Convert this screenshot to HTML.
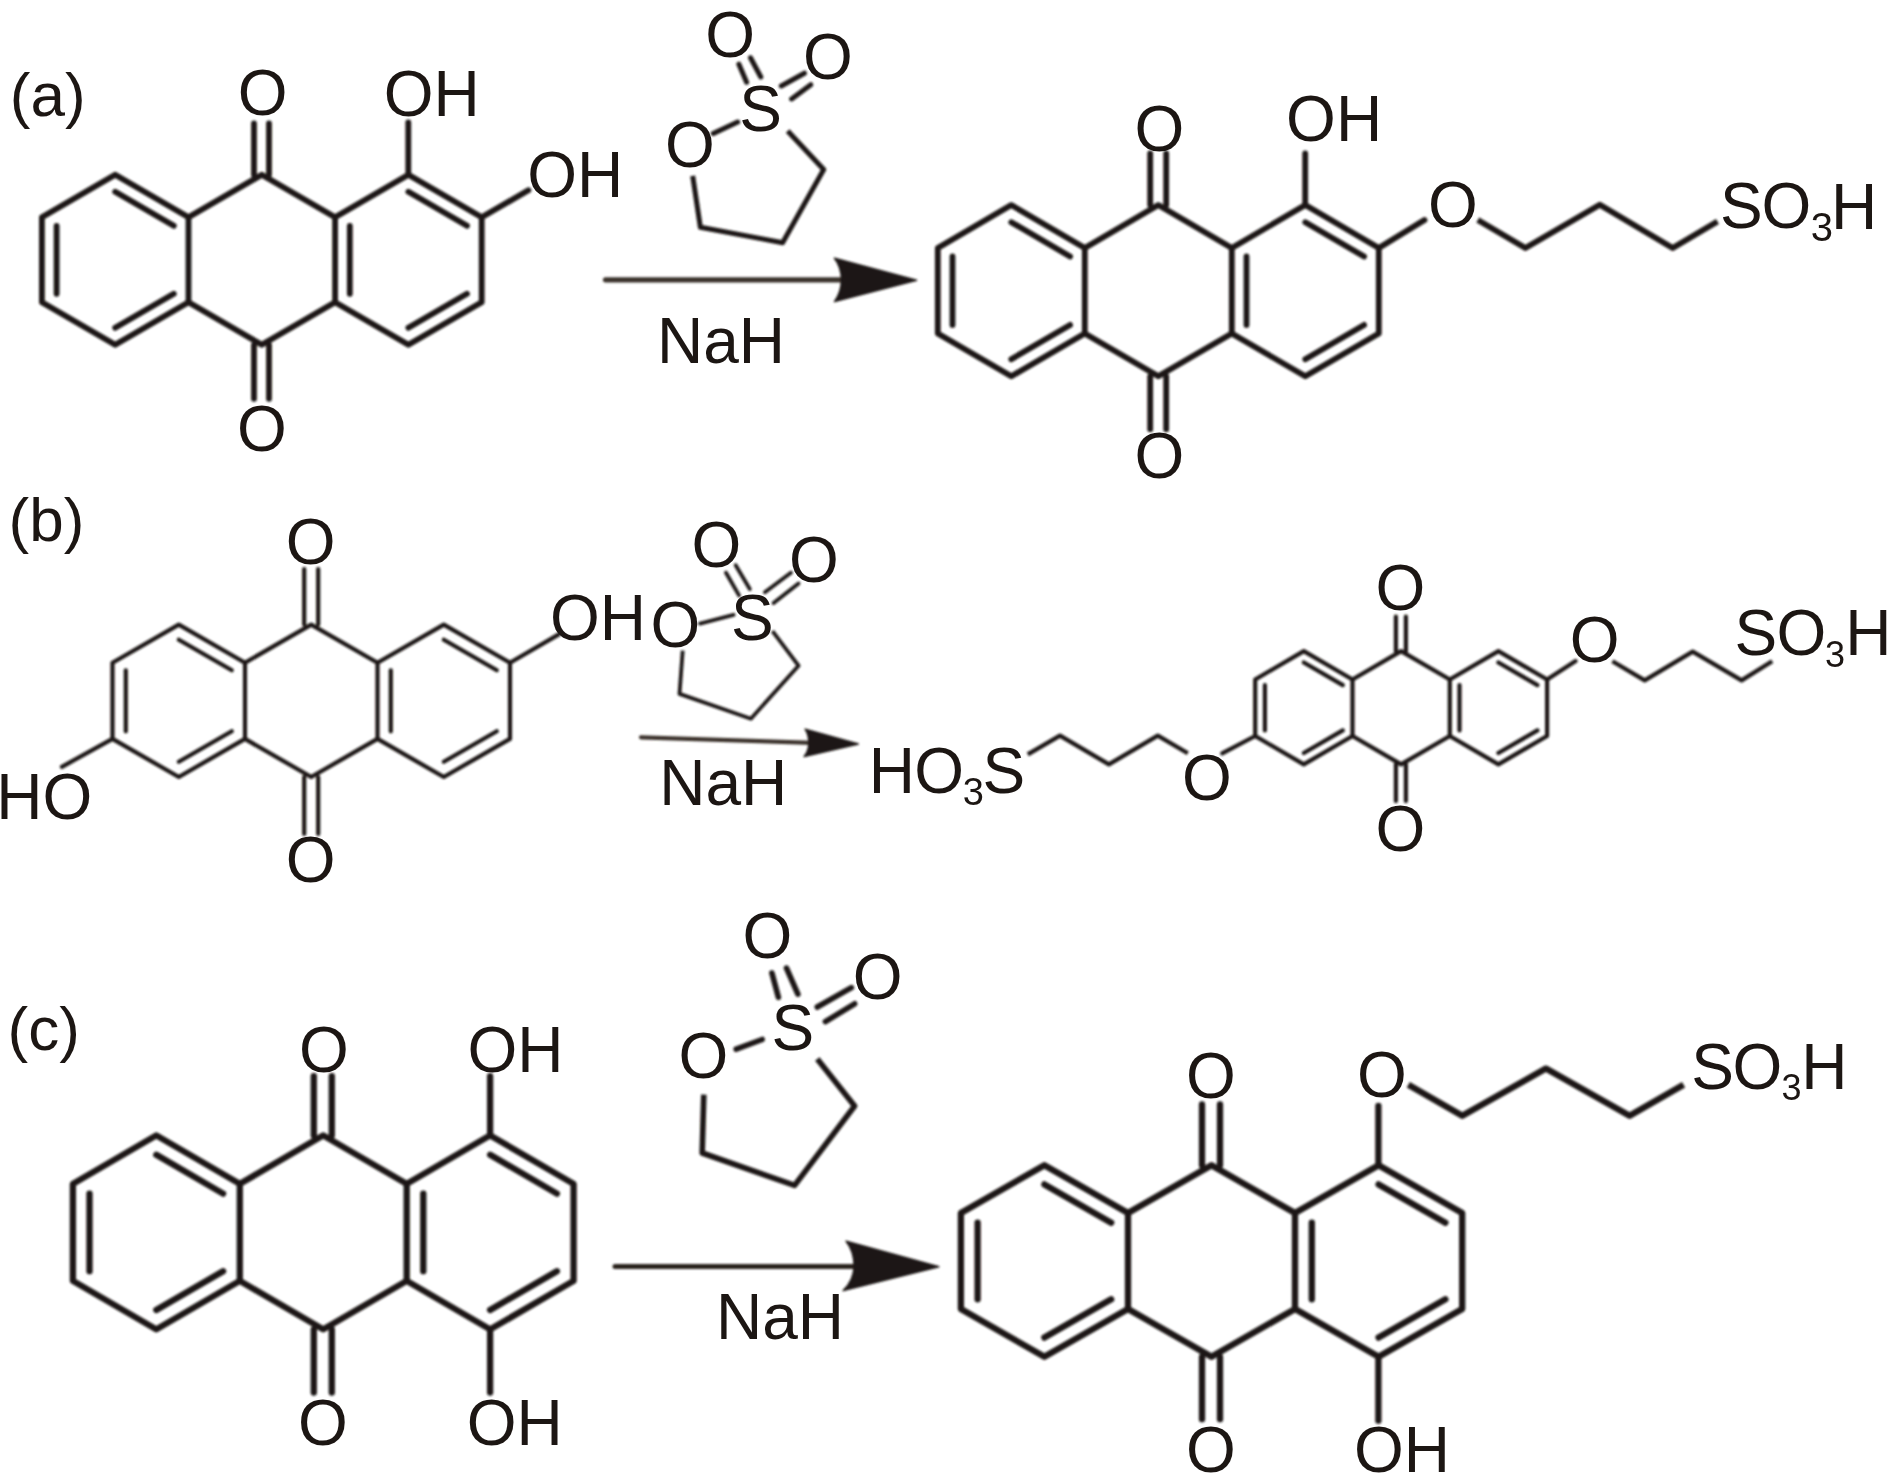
<!DOCTYPE html>
<html><head><meta charset="utf-8"><title>Reaction scheme</title>
<style>
html,body{margin:0;padding:0;background:#fff;}
svg{display:block;will-change:transform;}
text{font-family:"Liberation Sans",sans-serif;fill:#1c1613;stroke:none;}
</style></head>
<body>
<svg width="1890" height="1480" viewBox="0 0 1890 1480">
<defs><filter id="soft" x="0" y="0" width="1890" height="1480" filterUnits="userSpaceOnUse"><feGaussianBlur stdDeviation="0.8"/></filter></defs>
<rect width="1890" height="1480" fill="#fff"/>
<g filter="url(#soft)">
<g stroke="#1c1613" stroke-linejoin="round" stroke-linecap="butt" fill="none">
<path d="M41.9,217.3 L115.2,174.8 L188.5,217.3 L261.8,174.8 L335.1,217.3 L408.4,174.8 L481.7,217.3 L481.7,302.3 L408.4,344.8 L335.1,302.3 L261.8,344.8 L188.5,302.3 L115.2,344.8 L41.9,302.3 Z" fill="none" stroke-width="5.8"/>
<line x1="188.5" y1="217.3" x2="188.5" y2="302.3" stroke-width="5.8" stroke-linecap="round"/>
<line x1="335.1" y1="217.3" x2="335.1" y2="302.3" stroke-width="5.8" stroke-linecap="round"/>
<line x1="115.2" y1="191.8" x2="173.8" y2="225.8" stroke-width="5.8" stroke-linecap="round"/>
<line x1="56.6" y1="225.8" x2="56.6" y2="293.8" stroke-width="5.8" stroke-linecap="round"/>
<line x1="173.8" y1="293.8" x2="115.2" y2="327.8" stroke-width="5.8" stroke-linecap="round"/>
<line x1="408.4" y1="191.8" x2="467.0" y2="225.8" stroke-width="5.8" stroke-linecap="round"/>
<line x1="349.8" y1="225.8" x2="349.8" y2="293.8" stroke-width="5.8" stroke-linecap="round"/>
<line x1="467.0" y1="293.8" x2="408.4" y2="327.8" stroke-width="5.8" stroke-linecap="round"/>
<line x1="254.0" y1="174.8" x2="254.0" y2="123.5" stroke-width="5.8" stroke-linecap="round"/>
<line x1="254.0" y1="344.8" x2="254.0" y2="398.8" stroke-width="5.8" stroke-linecap="round"/>
<line x1="269.0" y1="174.8" x2="269.0" y2="123.5" stroke-width="5.8" stroke-linecap="round"/>
<line x1="269.0" y1="344.8" x2="269.0" y2="398.8" stroke-width="5.8" stroke-linecap="round"/>
<line x1="408.3" y1="174.8" x2="408.3" y2="122.4" stroke-width="5.8" stroke-linecap="round"/>
<line x1="481.7" y1="217.3" x2="528.4" y2="190.2" stroke-width="5.8" stroke-linecap="round"/>
<line x1="738.9" y1="64.2" x2="746.6" y2="82.2" stroke-width="5.0" stroke-linecap="round"/>
<line x1="750.5" y1="57.8" x2="760.8" y2="77.0" stroke-width="5.0" stroke-linecap="round"/>
<line x1="781.3" y1="86.0" x2="804.4" y2="73.2" stroke-width="5.0" stroke-linecap="round"/>
<line x1="791.6" y1="98.9" x2="810.8" y2="84.7" stroke-width="5.0" stroke-linecap="round"/>
<line x1="713.3" y1="133.5" x2="737.7" y2="122.0" stroke-width="5.0" stroke-linecap="round"/>
<path d="M787.7,131.0 L823.7,169.5 L782.6,242.7 L700.4,227.3 L692.7,175.9" fill="none" stroke-width="5.0"/>
<line x1="605.5" y1="279.8" x2="845.0" y2="279.8" stroke-width="5.2" stroke-linecap="round" stroke="#3a302b"/>
<path d="M834.5,258.2 L916.5,280.2 L834.5,301.6 Q841.4,292.6 841.4,279.6 Q841.4,266.9 834.5,258.2 Z" fill="#1c1613" stroke="#1c1613" stroke-width="1.5" stroke-linejoin="round"/>
<path d="M937.8,247.9 L1011.3,205.1 L1084.8,247.9 L1158.3,205.1 L1231.8,247.9 L1305.3,205.1 L1378.8,247.9 L1378.8,333.5 L1305.3,376.3 L1231.8,333.5 L1158.3,376.3 L1084.8,333.5 L1011.3,376.3 L937.8,333.5 Z" fill="none" stroke-width="5.8"/>
<line x1="1084.8" y1="247.9" x2="1084.8" y2="333.5" stroke-width="5.8" stroke-linecap="round"/>
<line x1="1231.8" y1="247.9" x2="1231.8" y2="333.5" stroke-width="5.8" stroke-linecap="round"/>
<line x1="1011.3" y1="222.2" x2="1070.1" y2="256.5" stroke-width="5.8" stroke-linecap="round"/>
<line x1="952.5" y1="256.5" x2="952.5" y2="324.9" stroke-width="5.8" stroke-linecap="round"/>
<line x1="1070.1" y1="324.9" x2="1011.3" y2="359.2" stroke-width="5.8" stroke-linecap="round"/>
<line x1="1305.3" y1="222.2" x2="1364.1" y2="256.5" stroke-width="5.8" stroke-linecap="round"/>
<line x1="1246.5" y1="256.5" x2="1246.5" y2="324.9" stroke-width="5.8" stroke-linecap="round"/>
<line x1="1364.1" y1="324.9" x2="1305.3" y2="359.2" stroke-width="5.8" stroke-linecap="round"/>
<line x1="1150.2" y1="205.1" x2="1150.2" y2="153.5" stroke-width="5.8" stroke-linecap="round"/>
<line x1="1150.2" y1="376.3" x2="1150.2" y2="429.2" stroke-width="5.8" stroke-linecap="round"/>
<line x1="1166.2" y1="205.1" x2="1166.2" y2="153.5" stroke-width="5.8" stroke-linecap="round"/>
<line x1="1166.2" y1="376.3" x2="1166.2" y2="429.2" stroke-width="5.8" stroke-linecap="round"/>
<line x1="1305.2" y1="205.1" x2="1305.2" y2="153.5" stroke-width="5.8" stroke-linecap="round"/>
<line x1="1378.8" y1="247.9" x2="1424.5" y2="220.1" stroke-width="5.8" stroke-linecap="round"/>
<path d="M1477.8,220.1 L1525.4,248.1 L1599.8,204.7 L1672.7,248.1 L1717.5,221.5" fill="none" stroke-width="5.8"/>
<path d="M112.5,662.7 L178.8,624.6 L245.0,662.7 L311.2,624.6 L377.5,662.7 L443.8,624.6 L510.0,662.7 L510.0,738.9 L443.8,777.0 L377.5,738.9 L311.2,777.0 L245.0,738.9 L178.8,777.0 L112.5,738.9 Z" fill="none" stroke-width="4.2"/>
<line x1="245.0" y1="662.7" x2="245.0" y2="738.9" stroke-width="4.2" stroke-linecap="round"/>
<line x1="377.5" y1="662.7" x2="377.5" y2="738.9" stroke-width="4.2" stroke-linecap="round"/>
<line x1="178.8" y1="639.8" x2="231.8" y2="670.3" stroke-width="4.2" stroke-linecap="round"/>
<line x1="125.8" y1="670.3" x2="125.8" y2="731.3" stroke-width="4.2" stroke-linecap="round"/>
<line x1="231.8" y1="731.3" x2="178.8" y2="761.8" stroke-width="4.2" stroke-linecap="round"/>
<line x1="443.8" y1="639.8" x2="496.8" y2="670.3" stroke-width="4.2" stroke-linecap="round"/>
<line x1="390.8" y1="670.3" x2="390.8" y2="731.3" stroke-width="4.2" stroke-linecap="round"/>
<line x1="496.8" y1="731.3" x2="443.8" y2="761.8" stroke-width="4.2" stroke-linecap="round"/>
<line x1="304.2" y1="624.6" x2="304.2" y2="569.0" stroke-width="4.2" stroke-linecap="round"/>
<line x1="304.2" y1="777.0" x2="304.2" y2="833.9" stroke-width="4.2" stroke-linecap="round"/>
<line x1="318.2" y1="624.6" x2="318.2" y2="569.0" stroke-width="4.2" stroke-linecap="round"/>
<line x1="318.2" y1="777.0" x2="318.2" y2="833.9" stroke-width="4.2" stroke-linecap="round"/>
<line x1="510.0" y1="662.7" x2="558.8" y2="634.4" stroke-width="4.2" stroke-linecap="round"/>
<line x1="112.5" y1="738.9" x2="61.9" y2="766.8" stroke-width="4.2" stroke-linecap="round"/>
<line x1="726.0" y1="572.7" x2="739.0" y2="595.4" stroke-width="3.8" stroke-linecap="round"/>
<line x1="735.7" y1="565.2" x2="749.8" y2="589.0" stroke-width="3.8" stroke-linecap="round"/>
<line x1="764.9" y1="592.2" x2="790.9" y2="572.7" stroke-width="3.8" stroke-linecap="round"/>
<line x1="773.6" y1="603.0" x2="798.5" y2="583.5" stroke-width="3.8" stroke-linecap="round"/>
<line x1="700.0" y1="623.6" x2="733.6" y2="614.9" stroke-width="3.8" stroke-linecap="round"/>
<path d="M772.5,631.1 L798.5,665.7 L750.9,718.7 L679.5,693.9 L682.7,650.6" fill="none" stroke-width="3.8"/>
<line x1="641.0" y1="737.3" x2="812.0" y2="742.8" stroke-width="4.2" stroke-linecap="round" stroke="#3a302b"/>
<path d="M805.2,729.2 L858.3,744.0 L804.2,756.5 Q808.8,751.5 808.8,742.6 Q808.8,733.9 805.2,729.2 Z" fill="#1c1613" stroke="#1c1613" stroke-width="1.5" stroke-linejoin="round"/>
<path d="M1255.2,679.5 L1303.8,651.1 L1352.5,679.5 L1401.1,651.1 L1449.8,679.5 L1498.4,651.1 L1547.1,679.5 L1547.1,736.0 L1498.4,764.4 L1449.8,736.0 L1401.1,764.4 L1352.5,736.0 L1303.8,764.4 L1255.2,736.0 Z" fill="none" stroke-width="4.2"/>
<line x1="1352.5" y1="679.5" x2="1352.5" y2="736.0" stroke-width="4.2" stroke-linecap="round"/>
<line x1="1449.8" y1="679.5" x2="1449.8" y2="736.0" stroke-width="4.2" stroke-linecap="round"/>
<line x1="1303.8" y1="662.5" x2="1342.8" y2="685.1" stroke-width="4.2" stroke-linecap="round"/>
<line x1="1264.9" y1="685.1" x2="1264.9" y2="730.4" stroke-width="4.2" stroke-linecap="round"/>
<line x1="1342.8" y1="730.4" x2="1303.8" y2="753.0" stroke-width="4.2" stroke-linecap="round"/>
<line x1="1498.4" y1="662.5" x2="1537.4" y2="685.1" stroke-width="4.2" stroke-linecap="round"/>
<line x1="1459.5" y1="685.1" x2="1459.5" y2="730.4" stroke-width="4.2" stroke-linecap="round"/>
<line x1="1537.4" y1="730.4" x2="1498.4" y2="753.0" stroke-width="4.2" stroke-linecap="round"/>
<line x1="1395.9" y1="651.2" x2="1395.9" y2="616.7" stroke-width="4.2" stroke-linecap="round"/>
<line x1="1395.9" y1="764.3" x2="1395.9" y2="801.1" stroke-width="4.2" stroke-linecap="round"/>
<line x1="1405.9" y1="651.2" x2="1405.9" y2="616.7" stroke-width="4.2" stroke-linecap="round"/>
<line x1="1405.9" y1="764.3" x2="1405.9" y2="801.1" stroke-width="4.2" stroke-linecap="round"/>
<line x1="1255.2" y1="736.0" x2="1222.2" y2="753.3" stroke-width="4.2" stroke-linecap="round"/>
<path d="M1027.8,754.4 L1060.0,735.6 L1108.9,764.4 L1157.8,735.6 L1187.8,753.3" fill="none" stroke-width="4.2"/>
<line x1="1547.1" y1="679.5" x2="1575.6" y2="661.1" stroke-width="4.2" stroke-linecap="round"/>
<path d="M1612.4,661.2 L1644.7,680.4 L1692.7,651.6 L1741.6,680.4 L1772.2,661.2" fill="none" stroke-width="4.2"/>
<path d="M72.9,1183.9 L156.3,1135.4 L239.8,1183.9 L323.2,1135.4 L406.7,1183.9 L490.1,1135.4 L573.6,1183.9 L573.6,1280.9 L490.1,1329.4 L406.7,1280.9 L323.2,1329.4 L239.8,1280.9 L156.3,1329.4 L72.9,1280.9 Z" fill="none" stroke-width="6.3"/>
<line x1="239.8" y1="1183.9" x2="239.8" y2="1280.9" stroke-width="6.3" stroke-linecap="round"/>
<line x1="406.7" y1="1183.9" x2="406.7" y2="1280.9" stroke-width="6.3" stroke-linecap="round"/>
<line x1="156.3" y1="1154.8" x2="223.1" y2="1193.6" stroke-width="6.3" stroke-linecap="round"/>
<line x1="89.5" y1="1193.6" x2="89.5" y2="1271.2" stroke-width="6.3" stroke-linecap="round"/>
<line x1="223.1" y1="1271.2" x2="156.3" y2="1310.0" stroke-width="6.3" stroke-linecap="round"/>
<line x1="490.1" y1="1154.8" x2="556.9" y2="1193.6" stroke-width="6.3" stroke-linecap="round"/>
<line x1="423.3" y1="1193.6" x2="423.3" y2="1271.2" stroke-width="6.3" stroke-linecap="round"/>
<line x1="556.9" y1="1271.2" x2="490.1" y2="1310.0" stroke-width="6.3" stroke-linecap="round"/>
<line x1="313.8" y1="1135.4" x2="313.8" y2="1076.2" stroke-width="6.3" stroke-linecap="round"/>
<line x1="313.8" y1="1329.4" x2="313.8" y2="1392.5" stroke-width="6.3" stroke-linecap="round"/>
<line x1="331.8" y1="1135.4" x2="331.8" y2="1076.2" stroke-width="6.3" stroke-linecap="round"/>
<line x1="331.8" y1="1329.4" x2="331.8" y2="1392.5" stroke-width="6.3" stroke-linecap="round"/>
<line x1="490.1" y1="1135.4" x2="490.1" y2="1076.2" stroke-width="6.3" stroke-linecap="round"/>
<line x1="490.1" y1="1329.4" x2="490.1" y2="1392.5" stroke-width="6.3" stroke-linecap="round"/>
<line x1="771.9" y1="973.0" x2="778.4" y2="997.3" stroke-width="5.6" stroke-linecap="round"/>
<line x1="786.5" y1="968.1" x2="797.9" y2="994.1" stroke-width="5.6" stroke-linecap="round"/>
<line x1="817.3" y1="1007.0" x2="851.4" y2="987.6" stroke-width="5.6" stroke-linecap="round"/>
<line x1="825.4" y1="1021.6" x2="854.6" y2="1003.8" stroke-width="5.6" stroke-linecap="round"/>
<line x1="736.2" y1="1049.2" x2="762.2" y2="1039.5" stroke-width="5.6" stroke-linecap="round"/>
<path d="M817.3,1058.9 L854.6,1106.0 L794.6,1185.4 L702.2,1153.0 L703.8,1094.6" fill="none" stroke-width="5.6"/>
<line x1="615.0" y1="1266.5" x2="860.0" y2="1266.5" stroke-width="5.0" stroke-linecap="round" stroke="#2a221e"/>
<path d="M846.2,1241.2 L938.8,1266.8 L843.2,1290.6 Q854.1,1280.1 854.1,1265.6 Q854.1,1251.4 846.2,1241.2 Z" fill="#1c1613" stroke="#1c1613" stroke-width="1.5" stroke-linejoin="round"/>
<path d="M960.9,1213.1 L1044.4,1165.2 L1128.0,1213.1 L1211.5,1165.2 L1295.0,1213.1 L1378.6,1165.2 L1462.2,1213.1 L1462.2,1308.9 L1378.6,1356.8 L1295.1,1308.9 L1211.5,1356.8 L1128.0,1308.9 L1044.4,1356.8 L960.9,1308.9 Z" fill="none" stroke-width="6.3"/>
<line x1="1128.0" y1="1213.1" x2="1128.0" y2="1308.9" stroke-width="6.3" stroke-linecap="round"/>
<line x1="1295.0" y1="1213.1" x2="1295.0" y2="1308.9" stroke-width="6.3" stroke-linecap="round"/>
<line x1="1044.4" y1="1184.4" x2="1111.2" y2="1222.7" stroke-width="6.3" stroke-linecap="round"/>
<line x1="977.6" y1="1222.7" x2="977.6" y2="1299.3" stroke-width="6.3" stroke-linecap="round"/>
<line x1="1111.2" y1="1299.3" x2="1044.4" y2="1337.6" stroke-width="6.3" stroke-linecap="round"/>
<line x1="1378.6" y1="1184.4" x2="1445.4" y2="1222.7" stroke-width="6.3" stroke-linecap="round"/>
<line x1="1311.8" y1="1222.7" x2="1311.8" y2="1299.3" stroke-width="6.3" stroke-linecap="round"/>
<line x1="1445.4" y1="1299.3" x2="1378.6" y2="1337.6" stroke-width="6.3" stroke-linecap="round"/>
<line x1="1202.0" y1="1165.2" x2="1202.0" y2="1104.5" stroke-width="6.3" stroke-linecap="round"/>
<line x1="1202.0" y1="1356.8" x2="1202.0" y2="1419.2" stroke-width="6.3" stroke-linecap="round"/>
<line x1="1220.0" y1="1165.2" x2="1220.0" y2="1104.5" stroke-width="6.3" stroke-linecap="round"/>
<line x1="1220.0" y1="1356.8" x2="1220.0" y2="1419.2" stroke-width="6.3" stroke-linecap="round"/>
<line x1="1378.4" y1="1165.2" x2="1378.4" y2="1106.0" stroke-width="6.3" stroke-linecap="round"/>
<line x1="1378.4" y1="1356.8" x2="1378.4" y2="1420.7" stroke-width="6.3" stroke-linecap="round"/>
<path d="M1408.3,1084.8 L1462.3,1115.8 L1545.9,1068.6 L1629.6,1115.8 L1683.6,1084.8" fill="none" stroke-width="6.3"/>
</g>
</g>
<g>
<text x="9.8" y="116.1" font-size="62">(a)</text>
<text x="237.7" y="115.3" font-size="64">O</text>
<text x="237.0" y="450.5" font-size="64">O</text>
<text x="383.8" y="116.4" font-size="64">OH</text>
<text x="527.2" y="197.4" font-size="64">OH</text>
<text x="705.3" y="56.8" font-size="64">O</text>
<text x="802.9" y="78.6" font-size="64">O</text>
<text x="739.3" y="131.2" font-size="64">S</text>
<text x="664.9" y="166.5" font-size="64">O</text>
<text x="657.0" y="362.7" font-size="64">NaH</text>
<text x="1134.6" y="150.6" font-size="64">O</text>
<text x="1134.6" y="478.3" font-size="64">O</text>
<text x="1286.1" y="140.5" font-size="64">OH</text>
<text x="1427.9" y="226.7" font-size="64">O</text>
<text x="1720.0" y="228.2" font-size="64">S</text>
<text x="1761.6" y="228.2" font-size="64">O</text>
<text x="1810.8" y="240.8" font-size="40">3</text>
<text x="1830.9" y="228.6" font-size="64">H</text>
<text x="8.6" y="540.5" font-size="62">(b)</text>
<text x="285.7" y="563.6" font-size="64">O</text>
<text x="285.7" y="881.7" font-size="64">O</text>
<text x="549.9" y="640.2" font-size="64">OH</text>
<text x="-3.7" y="819.0" font-size="64">HO</text>
<text x="691.6" y="566.7" font-size="64">O</text>
<text x="789.0" y="582.3" font-size="64">O</text>
<text x="731.0" y="639.7" font-size="64">S</text>
<text x="650.5" y="647.2" font-size="64">O</text>
<text x="659.2" y="804.9" font-size="64">NaH</text>
<text x="1375.4" y="609.8" font-size="64">O</text>
<text x="1375.4" y="851.2" font-size="64">O</text>
<text x="1182.1" y="799.8" font-size="64">O</text>
<text x="868.8" y="792.6" font-size="64">H</text>
<text x="914.3" y="792.6" font-size="64">O</text>
<text x="962.7" y="804.8" font-size="38">3</text>
<text x="982.5" y="792.6" font-size="64">S</text>
<text x="1569.8" y="661.5" font-size="64">O</text>
<text x="1734.6" y="654.9" font-size="64">S</text>
<text x="1776.4" y="654.9" font-size="64">O</text>
<text x="1824.9" y="667.1" font-size="36">3</text>
<text x="1845.2" y="654.9" font-size="64">H</text>
<text x="7.5" y="1050.2" font-size="62">(c)</text>
<text x="298.9" y="1072.4" font-size="64">O</text>
<text x="298.1" y="1445.4" font-size="64">O</text>
<text x="467.4" y="1072.4" font-size="64">OH</text>
<text x="466.7" y="1445.4" font-size="64">OH</text>
<text x="742.4" y="957.8" font-size="64">O</text>
<text x="852.7" y="999.1" font-size="64">O</text>
<text x="771.5" y="1050.2" font-size="64">S</text>
<text x="678.4" y="1077.8" font-size="64">O</text>
<text x="716.0" y="1338.5" font-size="64">NaH</text>
<text x="1186.0" y="1098.4" font-size="64">O</text>
<text x="1186.0" y="1471.7" font-size="64">O</text>
<text x="1357.0" y="1096.9" font-size="64">O</text>
<text x="1353.9" y="1471.7" font-size="64">OH</text>
<text x="1691.2" y="1089.3" font-size="64">S</text>
<text x="1732.5" y="1089.3" font-size="64">O</text>
<text x="1781.4" y="1099.9" font-size="36">3</text>
<text x="1801.2" y="1089.3" font-size="64">H</text>
</g>
</svg>
</body></html>
